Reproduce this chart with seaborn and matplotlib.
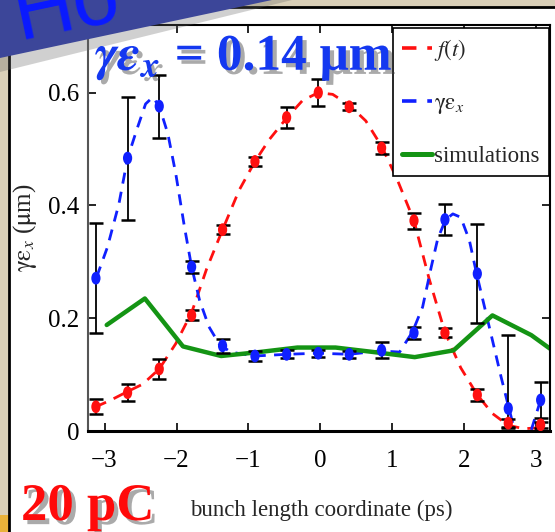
import numpy as np
import pandas as pd
import matplotlib
matplotlib.use("Agg")
import matplotlib.pyplot as plt
import seaborn as sns
from matplotlib.path import Path
from matplotlib.transforms import Affine2D
import matplotlib.patheffects as pe
from matplotlib.patches import Polygon, Rectangle
from matplotlib.lines import Line2D

# ---------------- data ----------------
t_points = [-3.12, -2.68, -2.24, -1.79, -1.36, -0.91, -0.47, -0.03,
            0.40, 0.85, 1.30, 1.73, 2.18, 2.61, 3.06]
f_vals = [0.043, 0.068, 0.110, 0.205, 0.357, 0.478, 0.556, 0.600,
          0.575, 0.502, 0.373, 0.174, 0.064, 0.014, 0.011]
f_err = [0.013, 0.015, 0.018, 0.009, 0.008, 0.008, 0.019, 0.024,
         0.006, 0.011, 0.014, 0.008, 0.010, 0.007, 0.005]
emit_vals = [0.271, 0.484, 0.576, 0.291, 0.151, 0.133, 0.136, 0.138,
             0.136, 0.143, 0.174, 0.375, 0.279, 0.040, 0.055]
emit_err_lo = [0.097, 0.109, 0.056, 0.010, 0.012, 0.008, 0.007, 0.006,
               0.006, 0.014, 0.010, 0.028, 0.088, 0.035, 0.032]
emit_err_hi = [0.097, 0.109, 0.056, 0.010, 0.012, 0.008, 0.007, 0.006,
               0.006, 0.014, 0.010, 0.028, 0.088, 0.130, 0.032]

f_curve_t = [-3.12, -2.91, -2.68, -2.47, -2.24, -2.01, -1.79, -1.58, -1.36,
             -1.13, -0.91, -0.71, -0.47, -0.25, -0.03, 0.17, 0.40, 0.63,
             0.85, 1.07, 1.30, 1.51, 1.73, 1.95, 2.18, 2.39, 2.61, 2.83, 3.06]
f_curve_v = [0.043, 0.055, 0.070, 0.083, 0.110, 0.155, 0.210, 0.288, 0.357,
             0.427, 0.478, 0.517, 0.555, 0.586, 0.600, 0.597, 0.578, 0.550,
             0.505, 0.445, 0.373, 0.270, 0.175, 0.112, 0.064, 0.031, 0.010,
             0.004, 0.006]

emit_curve_t = [-3.11, -2.96, -2.80, -2.68, -2.54, -2.43, -2.33, -2.24, -2.12,
                -2.01, -1.89, -1.79, -1.68, -1.55, -1.41, -1.25, -1.06, -0.91,
                -0.47, -0.03, 0.40, 0.82, 1.10, 1.28, 1.42, 1.54, 1.63, 1.74,
                1.84, 1.95, 2.07, 2.17, 2.28, 2.39, 2.51, 2.62, 2.69, 2.80,
                2.93, 3.06]
emit_curve_v = [0.273, 0.326, 0.403, 0.484, 0.539, 0.580, 0.592, 0.576, 0.527,
                0.456, 0.362, 0.291, 0.232, 0.185, 0.155, 0.140, 0.136, 0.133,
                0.136, 0.138, 0.136, 0.142, 0.140, 0.176, 0.220, 0.291, 0.341,
                0.375, 0.385, 0.379, 0.338, 0.279, 0.220, 0.161, 0.096, 0.040,
                0.005, -0.030, 0.002, 0.055]

sim_t = [-2.97, -2.44, -1.91, -1.38, -0.85, -0.32, 0.21, 0.74, 1.31, 1.85,
         2.39, 2.93, 3.19]
sim_v = [0.188, 0.235, 0.150, 0.133, 0.140, 0.148, 0.148, 0.140, 0.131,
         0.143, 0.205, 0.170, 0.146]

x_ticks = [-3, -2, -1, 0, 1, 2, 3]
x_tick_labels = ["\u22123", "\u22122", "\u22121", "0", "1", "2", "3"]
y_ticks = [0, 0.2, 0.4, 0.6]
y_tick_labels = ["0", "0.2", "0.4", "0.6"]

# ---------------- style ----------------
sns.set_style("ticks")
plt.rcParams["font.family"] = ["Liberation Serif", "DejaVu Serif"]
plt.rcParams["mathtext.fontset"] = "stix"

W, H = 555, 532
fig = plt.figure(figsize=(W / 100, H / 100), dpi=100)
fig.patch.set_facecolor("#d9cfb7")


def fx(px):
    return px / W


def fy(py):
    return 1 - py / H


# slide panel
fig.patches.append(Rectangle((fx(9), 0), 1 - fx(9), fy(7), transform=fig.transFigure,
                             facecolor="white", edgecolor="none", zorder=-3))
fig.patches.append(Rectangle((0, 0), fx(9), fy(515), transform=fig.transFigure,
                             facecolor="#e9b23a", edgecolor="none", zorder=-3))
fig.lines.append(Line2D([fx(9), fx(9)], [0, fy(7)], transform=fig.transFigure,
                        color="black", lw=2, zorder=-2))
fig.lines.append(Line2D([fx(9), 1], [fy(7), fy(7)], transform=fig.transFigure,
                        color="black", lw=2, zorder=-2))

# axes
ax = fig.add_axes([fx(88), fy(431), fx(550) - fx(88), fy(25) - fy(431)])
ax.set_facecolor("white")

ellipse = Path.unit_circle().transformed(Affine2D().scale(0.72, 1.0))

sns.lineplot(x=f_curve_t, y=f_curve_v, ax=ax, color="#ff1010", lw=2,
             linestyle=(0, (4, 3)), sort=False, estimator=None, label="$f(t)$", zorder=2)
sns.lineplot(x=emit_curve_t, y=emit_curve_v, ax=ax, color="#1020ff", lw=2,
             linestyle=(0, (4, 3)), sort=False, estimator=None,
             label=r"$\mathrm{\gamma\varepsilon}_{x}$", zorder=2)
sns.lineplot(x=sim_t, y=sim_v, ax=ax, color="#149414", lw=3.2, sort=False,
             estimator=None, label="simulations", zorder=2)

ax.errorbar(t_points, f_vals, yerr=f_err, fmt="none", ecolor="black",
            elinewidth=1.3, capsize=5, capthick=1.8, zorder=3)
ax.errorbar(t_points, emit_vals, yerr=[emit_err_lo, emit_err_hi], fmt="none",
            ecolor="black", elinewidth=1.3, capsize=5, capthick=1.8, zorder=3)
sns.scatterplot(x=t_points, y=f_vals, ax=ax, marker=ellipse, s=85, color="#ff1010",
                edgecolor="none", zorder=4, legend=False)
sns.scatterplot(x=t_points, y=emit_vals, ax=ax, marker=ellipse, s=85, color="#1020ff",
                edgecolor="none", zorder=4, legend=False)

ax.set_xlim(-3.23, 3.19)
ax.set_ylim(0, 0.72)
ax.set_xticks(x_ticks)
ax.set_xticklabels(x_tick_labels)
ax.set_yticks(y_ticks)
ax.set_yticklabels(y_tick_labels)
ax.tick_params(direction="in", length=6, width=1.2, top=True, right=True,
               labelsize=18, colors="black")
ax.tick_params(axis="x", pad=14)
ax.tick_params(axis="y", pad=6)
for s in ax.spines.values():
    s.set_color("black")
    s.set_linewidth(1.5)
ax.spines["bottom"].set_linewidth(2.2)
ax.spines["left"].set_color("#555555")

ax.set_xlabel("bunch length coordinate (ps)", fontsize=16.5)
ax.set_ylabel(r"$\mathrm{\gamma\varepsilon}_{x}$ ($\mathrm{\mu}$m)", fontsize=18)
ax.xaxis.set_label_coords(0.506, -0.17)
ax.yaxis.set_label_coords(-0.105, 0.5)

leg = ax.legend(loc="upper right", bbox_to_anchor=(0.998, 0.993), borderaxespad=0,
                fontsize=16.5, handlelength=1.3, handletextpad=0.1, labelspacing=1.3,
                borderpad=0.4, fancybox=False, framealpha=1, edgecolor="black")
leg.get_frame().set_linewidth(1.2)
for h in leg.get_lines():
    h.set_linewidth(2.6 if h.get_color() != "#149414" else 3.6)

# banner
fig.patches.append(Polygon([(0, 1), (fx(292), 1), (0, fy(72))], closed=True,
                           transform=fig.transFigure, facecolor="#666666",
                           alpha=0.3, edgecolor="none", zorder=4))
fig.patches.append(Polygon([(0, 1), (fx(272), 1), (0, fy(58))], closed=True,
                           transform=fig.transFigure, facecolor="#3c4699",
                           edgecolor="none", zorder=5))
fig.text(fx(6), fy(40), "Ho", fontsize=60, color="#0a1aff", rotation=12,
         family="Liberation Sans", ha="left", va="baseline", zorder=6)

shadow = [pe.withSimplePatchShadow(offset=(3, -3), shadow_rgbFace="#444444", alpha=0.45)]
fig.text(fx(95), fy(70), r"$\mathbfit{\gamma\varepsilon}_{\mathbfit{x}}$ = 0.14 " + "\u03bcm",
         fontsize=37, fontweight="bold", color="#1438f0", ha="left", va="baseline",
         zorder=7, path_effects=shadow)
fig.text(fx(21), fy(520), "20 pC", fontsize=38, fontweight="bold", color="#ff0a0a",
         ha="left", va="baseline", zorder=7, path_effects=shadow)

fig.savefig("out.png", dpi=100, facecolor=fig.get_facecolor())
